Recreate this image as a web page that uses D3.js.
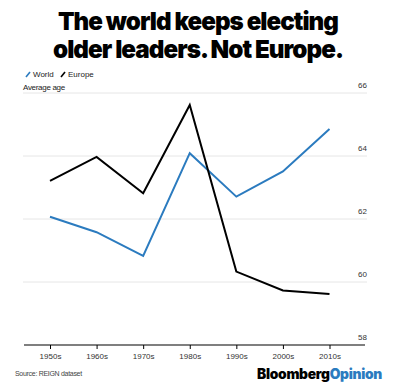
<!DOCTYPE html>
<html><head><meta charset="utf-8">
<script src="https://cdn.jsdelivr.net/npm/d3@7"></script>
<style>body{margin:0;background:#fff;} svg{display:block;}</style>
</head><body>
<svg id="c" width="396" height="392"></svg>
<script>
const categories = ["1950s","1960s","1970s","1980s","1990s","2000s","2010s"];
const worldValues = [62.07, 61.58, 60.83, 64.09, 62.71, 63.51, 64.86];
const europeValues = [63.21, 63.97, 62.82, 65.62, 60.33, 59.73, 59.62];
const yTicks = [58, 60, 62, 64, 66];
const seriesNames = ["World", "Europe"];
const colors = {World: "#2b7bbf", Europe: "#000000"};

const svg = d3.select("#c");
const font = "Inter, 'Noto Sans', sans-serif";
const bodyFont = "'Liberation Sans', Arial, sans-serif";

// Title
const title = svg.append("g");
[["The world keeps electing", 30, 280], ["older leaders. Not Europe.", 58, 290]].forEach(([t, y, w]) => {
  title.append("text").attr("x", 198).attr("y", y).attr("text-anchor", "middle")
    .attr("font-family", font).attr("font-weight", 900).attr("font-size", 25)
    .attr("letter-spacing", -1).attr("textLength", w).attr("lengthAdjust", "spacingAndGlyphs")
    .attr("fill", "#000").text(t);
});

const x = d3.scalePoint().domain(categories).range([50, 329.5]);
const y = d3.scaleLinear().domain([58, 66]).range([345, 93]);

// gridlines
svg.append("g").selectAll("line").data(yTicks.filter(d => d !== 58)).join("line")
  .attr("x1", 23).attr("x2", 367).attr("y1", d => y(d)).attr("y2", d => y(d))
  .attr("stroke", "#e6e6e6").attr("stroke-width", 1);

// y labels
svg.append("g").selectAll("text").data(yTicks).join("text")
  .attr("x", 367).attr("y", d => y(d) - 5).attr("text-anchor", "end")
  .attr("font-family", bodyFont).attr("font-size", 8).attr("fill", "#333")
  .text(d => d);

// x axis
const xAxis = d3.axisBottom(x).tickSize(4).tickPadding(4);
const gx = svg.append("g").attr("transform", `translate(0,${y(58)})`).call(xAxis);
gx.select(".domain").remove();
gx.append("line").attr("x1", 24).attr("x2", 365).attr("stroke", "#000").attr("stroke-width", 1.2);
gx.selectAll(".tick line").attr("stroke", "#000");
gx.selectAll(".tick text").attr("font-family", bodyFont).attr("font-size", 8).attr("fill", "#333");

// lines
const line = d3.line().x((d, i) => x(categories[i])).y(d => y(d));
svg.append("path").datum(worldValues).attr("d", line).attr("fill", "none")
  .attr("stroke", colors.World).attr("stroke-width", 2);
svg.append("path").datum(europeValues).attr("d", line).attr("fill", "none")
  .attr("stroke", colors.Europe).attr("stroke-width", 2);

// legend
const lg = svg.append("g");
let lx = 26;
seriesNames.forEach(n => {
  lg.append("line").attr("x1", lx).attr("y1", 77).attr("x2", lx + 4).attr("y2", 72)
    .attr("stroke", colors[n]).attr("stroke-width", 1.6);
  const t = lg.append("text").attr("x", lx + 7).attr("y", 77).attr("font-family", bodyFont)
    .attr("font-size", 8).attr("fill", "#222").text(n);
  lx += 35;
});
svg.append("text").attr("x", 23).attr("y", 90).attr("font-family", bodyFont)
  .attr("font-size", 8).attr("fill", "#222").attr("letter-spacing", -0.3).text("Average age");

// source
svg.append("text").attr("x", 15).attr("y", 376).attr("font-family", bodyFont)
  .attr("font-size", 7).attr("fill", "#444").attr("letter-spacing", -0.3).text("Source: REIGN dataset");

// logo
const logo = svg.append("text").attr("x", 382).attr("y", 379).attr("text-anchor", "end")
  .attr("font-family", font).attr("font-weight", 900).attr("font-size", 14)
  .attr("letter-spacing", -0.3).attr("textLength", 125).attr("lengthAdjust", "spacingAndGlyphs");
logo.append("tspan").attr("fill", "#000").text("Bloomberg");
logo.append("tspan").attr("fill", "#2b7bbf").text("Opinion");
</script>
</body></html>
